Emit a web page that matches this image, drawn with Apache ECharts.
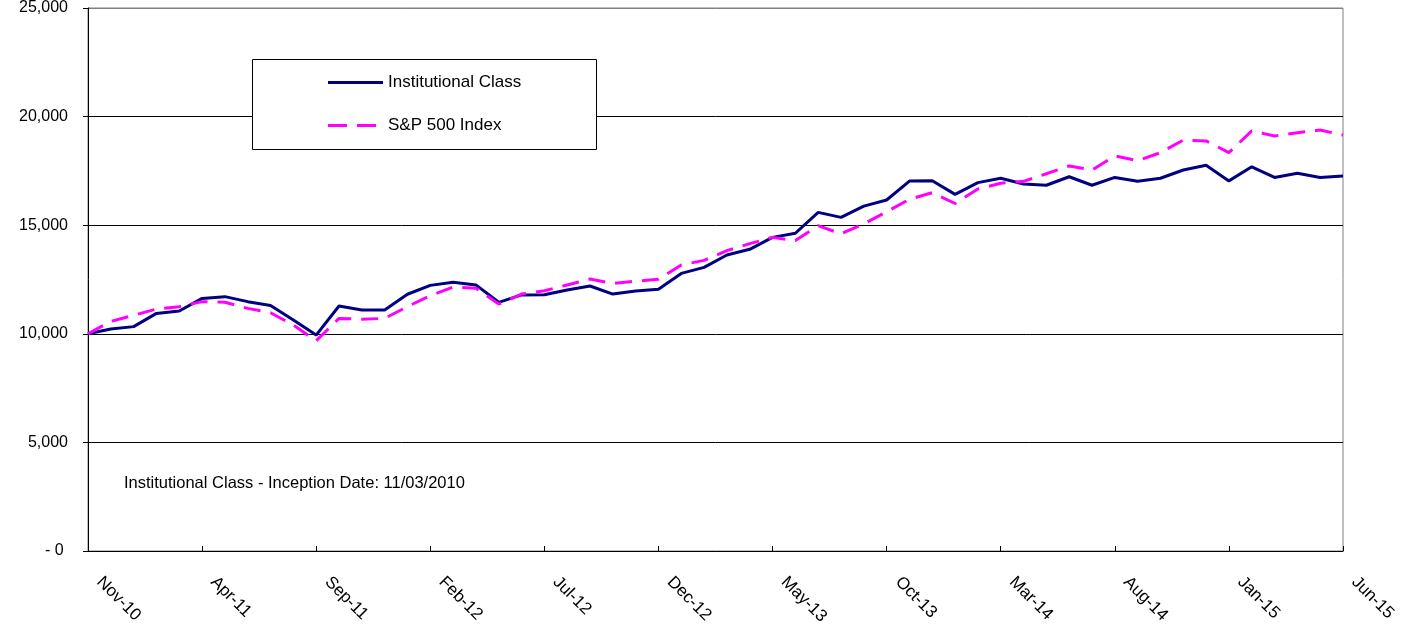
<!DOCTYPE html>
<html>
<head>
<meta charset="utf-8">
<script src="https://cdn.jsdelivr.net/npm/echarts@6/dist/echarts.min.js"></script>
<style>
html,body{margin:0;padding:0;background:#fff;}
#chart{width:1413px;height:633px;}
</style>
</head>
<body>
<div id="chart"></div>
<script>
const months = [
  'Nov-10','Dec-10',
  'Jan-11','Feb-11','Mar-11','Apr-11','May-11','Jun-11','Jul-11','Aug-11','Sep-11','Oct-11','Nov-11','Dec-11',
  'Jan-12','Feb-12','Mar-12','Apr-12','May-12','Jun-12','Jul-12','Aug-12','Sep-12','Oct-12','Nov-12','Dec-12',
  'Jan-13','Feb-13','Mar-13','Apr-13','May-13','Jun-13','Jul-13','Aug-13','Sep-13','Oct-13','Nov-13','Dec-13',
  'Jan-14','Feb-14','Mar-14','Apr-14','May-14','Jun-14','Jul-14','Aug-14','Sep-14','Oct-14','Nov-14','Dec-14',
  'Jan-15','Feb-15','Mar-15','Apr-15','May-15','Jun-15'
];
const institutionalClass = [
  10000,10220,10330,10940,11050,11630,11710,11480,11300,10640,9940,11280,11100,11100,
  11820,12230,12370,12250,11450,11790,11800,12020,12200,11830,11970,12050,
  12780,13060,13630,13890,14440,14630,15590,15360,15880,16160,17030,17050,16420,16960,
  17160,16900,16840,17230,16840,17200,17020,17160,17540,17760,17040,17690,17200,17390,17200,17260
];
const sp500Index = [
  10000,10570,10850,11140,11250,11480,11450,11170,10970,10400,9680,10710,10670,10710,
  11250,11760,12150,12100,11370,11830,11980,12250,12520,12320,12420,12510,
  13170,13380,13830,14150,14440,14290,14980,14600,15060,15620,16190,16500,16000,16670,
  16930,17020,17370,17730,17540,18190,17970,18340,18920,18880,18340,19340,19110,19260,19380,19150
];
const yTicks = [0,5000,10000,15000,20000,25000];
const seriesNames = ['Institutional Class','S&P 500 Index'];
const note = 'Institutional Class - Inception Date: 11/03/2010';

const FONT = 'Liberation Sans, Arial, sans-serif';
const chart = echarts.init(document.getElementById('chart'), null, {renderer:'canvas'});

function fmtY(v){
  if (v === 0) return '- 0 ';
  return v.toLocaleString('en-US');
}

chart.setOption({
  animation:false,
  backgroundColor:'#ffffff',
  grid:{left:88,right:70,top:8,bottom:82,show:true,borderColor:'#808080',borderWidth:1,backgroundColor:'transparent'},
  graphic:[
    {type:'rect',left:252,top:59,shape:{width:344,height:90},style:{fill:'#ffffff',stroke:'#000000',lineWidth:1},z:50},
    {type:'text',left:124,top:475,style:{text:note,font:'16.5px '+FONT,fill:'#000000'},z:50}
  ],
  legend:{
    orient:'vertical',left:328,top:74,padding:0,itemWidth:55,itemHeight:3,itemGap:26,
    itemStyle:{borderWidth:0},
    textStyle:{fontFamily:FONT,fontSize:17,color:'#000000'},
    data:[
      {name:seriesNames[0],icon:'rect'},
      {name:seriesNames[1],icon:'path://M0,0h19v3h-19zM29,0h19v3h-19zM54.9,0h0.1v3h-0.1z'}
    ],
    z:60
  },
  xAxis:{
    type:'category',data:months,boundaryGap:false,
    axisLine:{lineStyle:{color:'#000000',width:1}},
    axisTick:{show:true,inside:true,length:5,interval:4,lineStyle:{color:'#000000'}},
    axisLabel:{interval:4,rotate:-45,margin:17,padding:[0,0,0,16],fontFamily:FONT,fontSize:17,color:'#000000'},
    splitLine:{show:false}
  },
  yAxis:{
    type:'value',min:0,max:25000,interval:5000,
    axisLine:{show:true,lineStyle:{color:'#000000',width:1}},
    axisTick:{show:true,length:5,lineStyle:{color:'#000000'}},
    axisLabel:{margin:20,fontFamily:FONT,fontSize:16,color:'#000000',formatter:fmtY},
    splitLine:{show:true,lineStyle:{color:['#000000','#000000','#000000','#000000','#000000','#808080'],width:1}}
  },
  series:[
    {name:seriesNames[0],type:'line',data:institutionalClass,symbol:'none',
     lineStyle:{color:'#000080',width:3},itemStyle:{color:'#000080'},z:3},
    {name:seriesNames[1],type:'line',data:sp500Index,symbol:'none',
     lineStyle:{color:'#FF00FF',width:3,type:[17,10]},itemStyle:{color:'#FF00FF'},z:4}
  ]
});
</script>
</body>
</html>
